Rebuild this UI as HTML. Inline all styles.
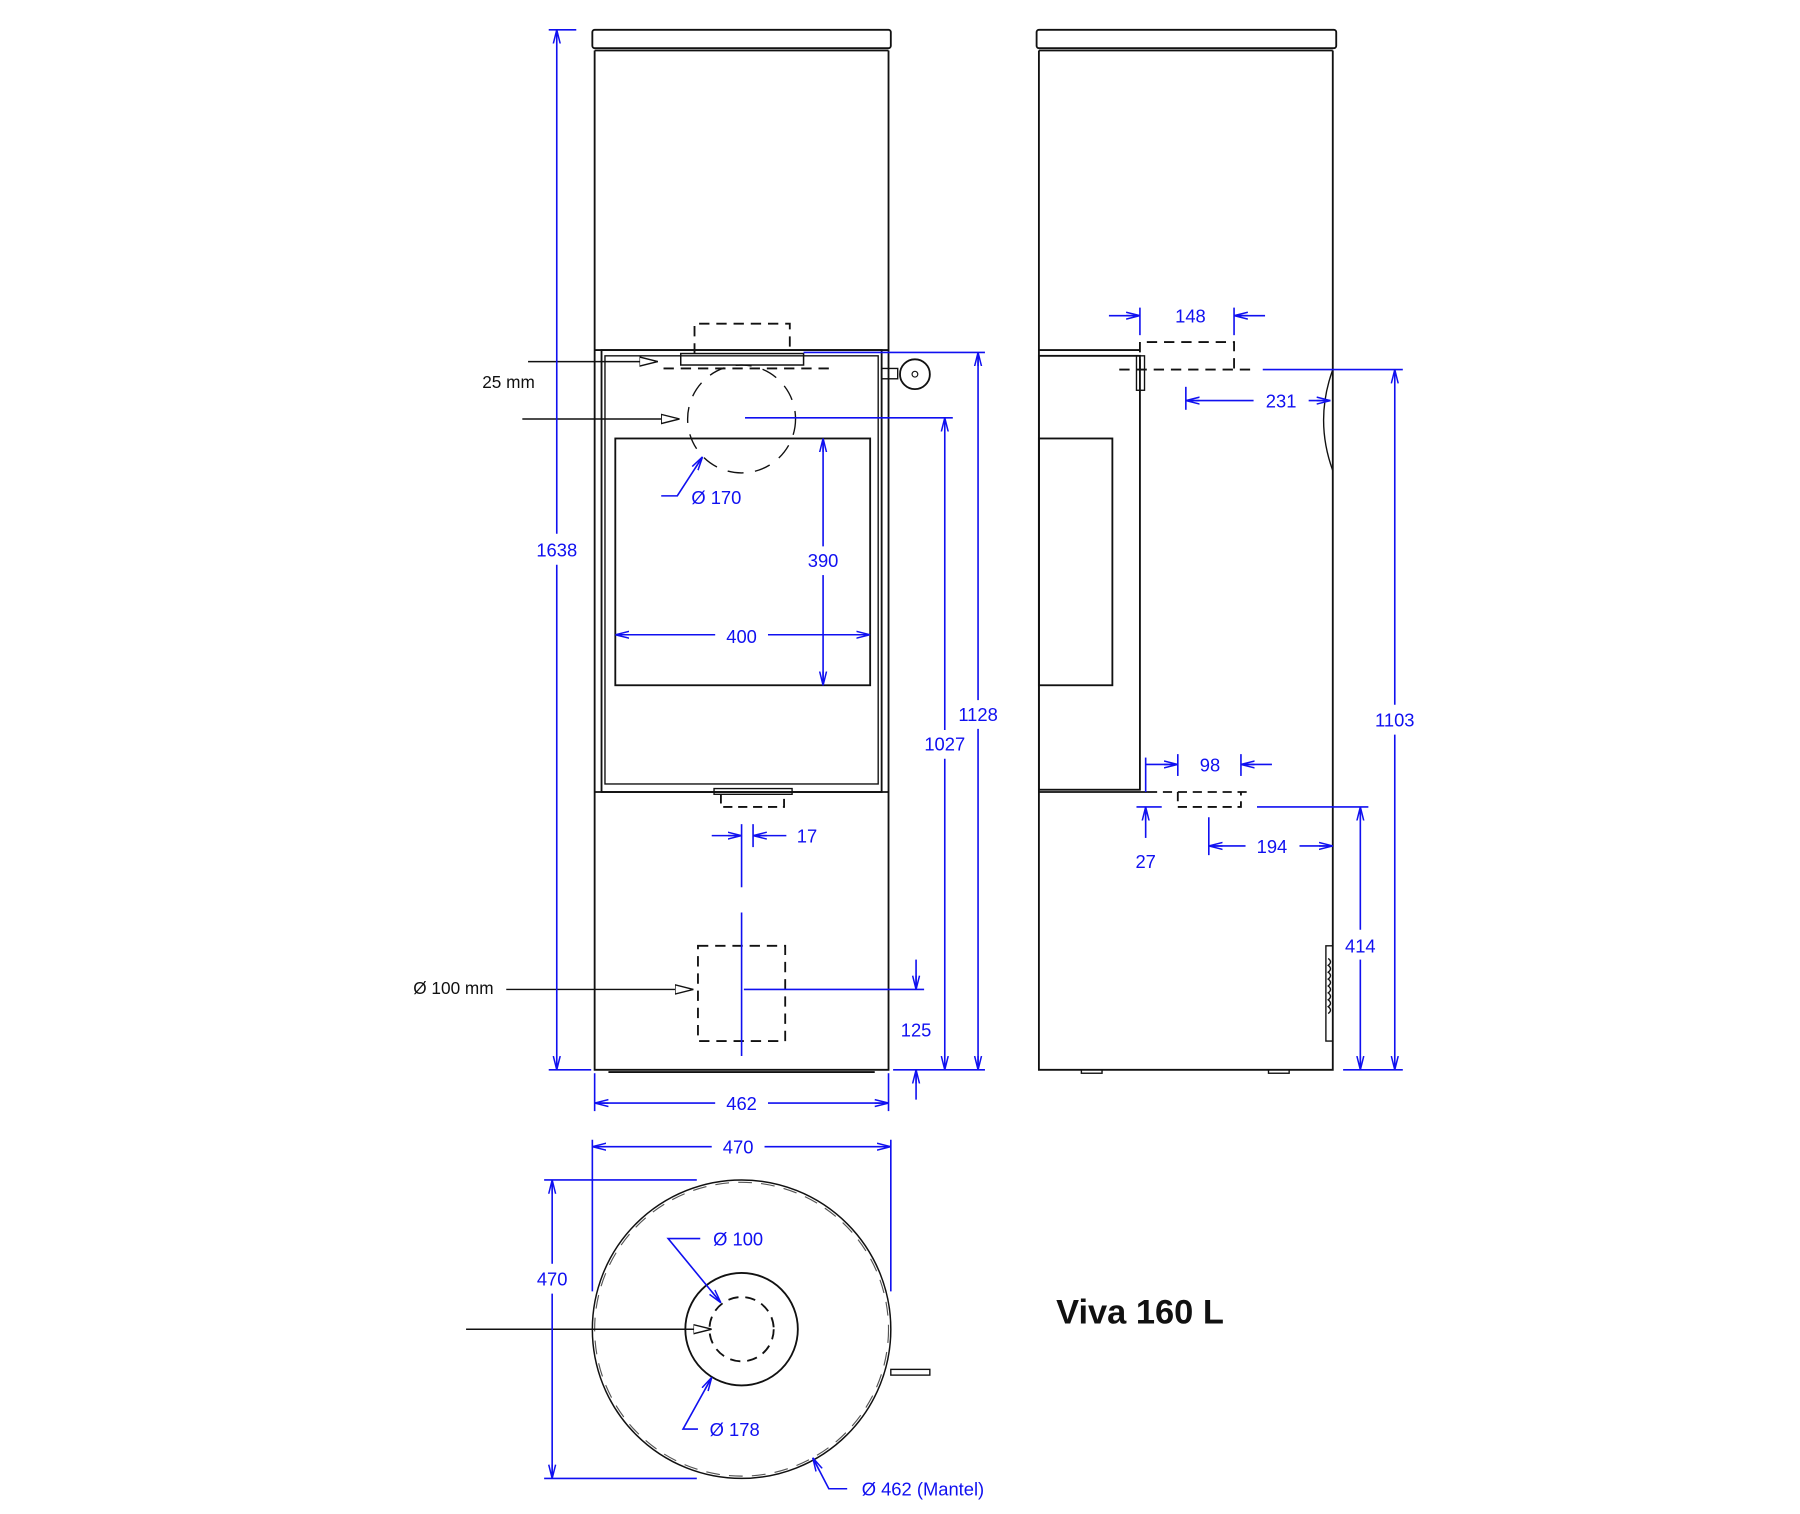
<!DOCTYPE html>
<html><head><meta charset="utf-8"><style>html,body{margin:0;padding:0;background:#fff}svg{display:block}</style></head>
<body>
<svg width="1800" height="1514" viewBox="0 0 1568 1319" preserveAspectRatio="none" xmlns="http://www.w3.org/2000/svg" font-family="Liberation Sans, sans-serif">
<defs>
<marker id="a" viewBox="0 0 12 8" refX="12" refY="4" markerWidth="12" markerHeight="8" markerUnits="userSpaceOnUse" orient="auto"><path d="M0,1 L12,4 L0,7 M0,4 L12,4" fill="none" stroke="#1010f0" stroke-width="1.3"/></marker>
<marker id="k" viewBox="0 0 16 10" refX="16" refY="5" markerWidth="16" markerHeight="10" markerUnits="userSpaceOnUse" orient="auto"><path d="M0,1 L16,5 L0,9 Z" fill="#fff" stroke="#111" stroke-width="1.2"/></marker>
</defs>
<rect width="1568" height="1319" fill="#fff"/>
<g fill="none" stroke="#111" stroke-width="1.6">
<!-- front view -->
<rect x="516" y="26" width="260" height="16" rx="2"/>
<line x1="518" y1="44" x2="774" y2="44"/>
<path d="M518,44 V932 H774 V44"/>
<line x1="530" y1="934" x2="762" y2="934"/>
<line x1="518" y1="305" x2="774" y2="305"/>
<rect x="524" y="305" width="244" height="385"/>
<rect x="527" y="310" width="238" height="373" stroke-width="1.2"/>
<line x1="518" y1="690" x2="774" y2="690"/>
<rect x="536" y="382" width="222" height="215"/>
<rect x="593" y="308" width="107" height="10" stroke-width="1.3"/>
<path d="M605,308 V282 H688 V308" stroke-dasharray="9,6"/>
<line x1="578" y1="321" x2="722" y2="321" stroke-dasharray="9,6"/>
<circle cx="646" cy="365" r="47" stroke-width="1.2" stroke-dasharray="14,10"/>
<circle cx="797" cy="326" r="13"/>
<circle cx="797" cy="326" r="2.5" stroke-width="1"/>
<rect x="768" y="321" width="14" height="9" stroke-width="1.2"/>
<rect x="622" y="687" width="68" height="5" stroke-width="1.2"/>
<path d="M628,692 V703 H683 V692" stroke-dasharray="8,5"/>
<rect x="608" y="824" width="76" height="83" stroke-dasharray="9,6"/>
<!-- side view -->
<rect x="903" y="26" width="261" height="16" rx="2"/>
<line x1="905" y1="44" x2="1161" y2="44"/>
<path d="M905,44 V932 H1161 V44"/>
<line x1="905" y1="305" x2="993" y2="305"/>
<rect x="905" y="310" width="88" height="378"/>
<rect x="905" y="382" width="64" height="215"/>
<line x1="905" y1="690" x2="1000" y2="690"/>
<rect x="990" y="310" width="7" height="30" stroke-width="1.2"/>
<path d="M993,322 V298 H1075 V322" stroke-dasharray="9,6"/>
<line x1="975" y1="322" x2="1090" y2="322" stroke-dasharray="9,6"/>
<path d="M1161,322 Q1145,366 1161,410" stroke-width="1.2"/>
<line x1="1000" y1="690" x2="1090" y2="690" stroke-dasharray="8,5"/>
<path d="M1026,690 V703 H1081 V690" stroke-dasharray="8,5"/>
<path d="M1161,824 H1155 V907 H1161 M1157,835 q4,3 0,6 q4,3 0,6 q4,3 0,6 q4,3 0,6 q4,3 0,6 q4,3 0,6 q4,3 0,6 q4,3 0,6" stroke-width="1.2"/>
<rect x="942" y="932" width="18" height="3" stroke-width="1.2"/>
<rect x="1105" y="932" width="18" height="3" stroke-width="1.2"/>
<!-- top view -->
<circle cx="646" cy="1158" r="130" stroke-width="1.3"/>
<circle cx="646" cy="1158" r="128" stroke-width="1" stroke-dasharray="12,8" stroke="#555"/>
<circle cx="646" cy="1158" r="49"/>
<circle cx="646" cy="1158" r="28" stroke-dasharray="9,6"/>
<rect x="776" y="1193" width="34" height="5" stroke-width="1.2"/>
</g>
<!-- black arrows -->
<g stroke="#111" stroke-width="1.3" fill="none">
<line x1="460" y1="315" x2="573" y2="315" marker-end="url(#k)"/>
<line x1="455" y1="365" x2="592" y2="365" marker-end="url(#k)"/>
<line x1="441" y1="862" x2="604" y2="862" marker-end="url(#k)"/>
<line x1="406" y1="1158" x2="620" y2="1158" marker-end="url(#k)"/>
</g>
<g fill="#111" font-size="15">
<text x="443" y="338" text-anchor="middle">25 mm</text>
<text x="395" y="866" text-anchor="middle">Ø 100 mm</text>
<text x="920" y="1153" font-size="30" font-weight="bold">Viva 160 L</text>
</g>
<!-- blue dimensions -->
<g stroke="#1010f0" stroke-width="1.4" fill="none">
<!-- 1638 -->
<line x1="478" y1="26" x2="502" y2="26"/><line x1="478" y1="932" x2="515" y2="932"/>
<line x1="485" y1="465" x2="485" y2="26" marker-end="url(#a)"/>
<line x1="485" y1="492" x2="485" y2="932" marker-end="url(#a)"/>
<!-- 1128 -->
<line x1="700" y1="307" x2="858" y2="307"/>
<line x1="852" y1="610" x2="852" y2="307" marker-end="url(#a)"/>
<line x1="852" y1="635" x2="852" y2="932" marker-end="url(#a)"/>
<line x1="778" y1="932" x2="858" y2="932"/>
<!-- 1027 -->
<line x1="649" y1="364" x2="830" y2="364"/>
<line x1="823" y1="636" x2="823" y2="364" marker-end="url(#a)"/>
<line x1="823" y1="661" x2="823" y2="932" marker-end="url(#a)"/>
<!-- 390 -->
<line x1="717" y1="476" x2="717" y2="382" marker-end="url(#a)"/>
<line x1="717" y1="501" x2="717" y2="597" marker-end="url(#a)"/>
<!-- 400 -->
<line x1="623" y1="553" x2="536" y2="553" marker-end="url(#a)"/>
<line x1="669" y1="553" x2="758" y2="553" marker-end="url(#a)"/>
<!-- 125 -->
<line x1="648" y1="862" x2="805" y2="862"/>
<line x1="798" y1="836" x2="798" y2="862" marker-end="url(#a)"/>
<line x1="798" y1="958" x2="798" y2="932" marker-end="url(#a)"/>
<!-- center line -->
<line x1="646" y1="718" x2="646" y2="773"/><line x1="646" y1="795" x2="646" y2="920"/>
<!-- 17 -->
<line x1="656" y1="718" x2="656" y2="738"/>
<line x1="620" y1="728" x2="646" y2="728" marker-end="url(#a)"/>
<line x1="685" y1="728" x2="656" y2="728" marker-end="url(#a)"/>
<!-- 462 -->
<line x1="518" y1="935" x2="518" y2="968"/><line x1="774" y1="935" x2="774" y2="968"/>
<line x1="623" y1="961" x2="518" y2="961" marker-end="url(#a)"/>
<line x1="669" y1="961" x2="774" y2="961" marker-end="url(#a)"/>
<!-- Ø170 -->
<path d="M576,432 H590 L612,398" marker-end="url(#a)"/>
<!-- 148 -->
<line x1="993" y1="268" x2="993" y2="292"/><line x1="1075" y1="268" x2="1075" y2="292"/>
<line x1="966" y1="275" x2="993" y2="275" marker-end="url(#a)"/>
<line x1="1102" y1="275" x2="1075" y2="275" marker-end="url(#a)"/>
<!-- 231 -->
<line x1="1100" y1="322" x2="1222" y2="322"/>
<line x1="1033" y1="337" x2="1033" y2="357"/>
<line x1="1092" y1="349" x2="1033" y2="349" marker-end="url(#a)"/>
<line x1="1140" y1="349" x2="1159" y2="349" marker-end="url(#a)"/>
<!-- 1103 -->
<line x1="1215" y1="614" x2="1215" y2="322" marker-end="url(#a)"/>
<line x1="1215" y1="640" x2="1215" y2="932" marker-end="url(#a)"/>
<line x1="1170" y1="932" x2="1222" y2="932"/>
<!-- 98 -->
<line x1="1026" y1="657" x2="1026" y2="676"/><line x1="1081" y1="657" x2="1081" y2="676"/>
<line x1="998" y1="660" x2="998" y2="690"/>
<line x1="998" y1="666" x2="1026" y2="666" marker-end="url(#a)"/>
<line x1="1108" y1="666" x2="1081" y2="666" marker-end="url(#a)"/>
<!-- 27 -->
<line x1="990" y1="703" x2="1012" y2="703"/>
<line x1="998" y1="730" x2="998" y2="703" marker-end="url(#a)"/>
<!-- 414 -->
<line x1="1095" y1="703" x2="1192" y2="703"/>
<line x1="1185" y1="810" x2="1185" y2="703" marker-end="url(#a)"/>
<line x1="1185" y1="836" x2="1185" y2="932" marker-end="url(#a)"/>
<!-- 194 -->
<line x1="1053" y1="712" x2="1053" y2="745"/>
<line x1="1085" y1="737" x2="1053" y2="737" marker-end="url(#a)"/>
<line x1="1132" y1="737" x2="1161" y2="737" marker-end="url(#a)"/>
<!-- top view 470 horiz -->
<line x1="516" y1="993" x2="516" y2="1125"/><line x1="776" y1="993" x2="776" y2="1125"/>
<line x1="620" y1="999" x2="516" y2="999" marker-end="url(#a)"/>
<line x1="666" y1="999" x2="776" y2="999" marker-end="url(#a)"/>
<!-- 470 vert -->
<line x1="474" y1="1028" x2="607" y2="1028"/><line x1="474" y1="1288" x2="607" y2="1288"/>
<line x1="481" y1="1101" x2="481" y2="1028" marker-end="url(#a)"/>
<line x1="481" y1="1127" x2="481" y2="1288" marker-end="url(#a)"/>
<!-- Ø100 leader -->
<path d="M610,1079 H582 L628,1135" marker-end="url(#a)"/>
<!-- Ø178 leader -->
<path d="M608,1245 H595 L620,1200" marker-end="url(#a)"/>
<!-- Ø462 leader -->
<path d="M738,1297 H722 L708,1270" marker-end="url(#a)"/>
</g>
<g fill="#1010f0" font-size="16" text-anchor="middle">
<text x="485" y="485">1638</text>
<text x="852" y="628">1128</text>
<text x="823" y="654">1027</text>
<text x="717" y="494">390</text>
<text x="646" y="560">400</text>
<text x="798" y="903">125</text>
<text x="703" y="734">17</text>
<text x="646" y="967">462</text>
<text x="624" y="439">Ø 170</text>
<text x="1037" y="281">148</text>
<text x="1116" y="355">231</text>
<text x="1215" y="633">1103</text>
<text x="1054" y="672">98</text>
<text x="998" y="756">27</text>
<text x="1108" y="743">194</text>
<text x="1185" y="830">414</text>
<text x="643" y="1005">470</text>
<text x="481" y="1120">470</text>
<text x="643" y="1085">Ø 100</text>
<text x="640" y="1251">Ø 178</text>
<text x="804" y="1303">Ø 462 (Mantel)</text>
</g>
</svg>
</body></html>
